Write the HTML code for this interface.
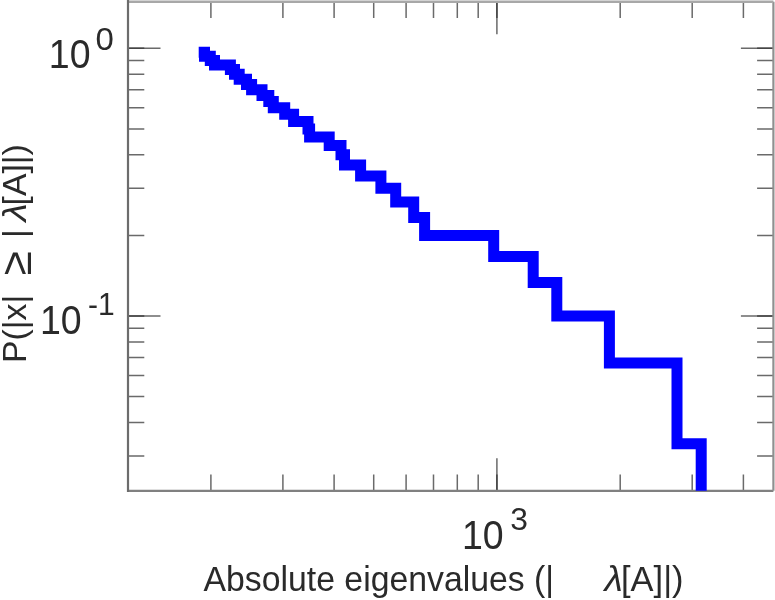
<!DOCTYPE html>
<html><head><meta charset="utf-8"><title>Absolute eigenvalues</title>
<style>
html,body{margin:0;padding:0;background:#fff;}
svg{display:block;}
text{font-family:"Liberation Sans",sans-serif;fill:#2a2a2a;}
.tk path{stroke:#6a6a6a;stroke-width:1.5;fill:none;}
.tk path.dk{stroke:#444;}
.big{font-size:37.5px;}
.sup{font-size:30px;}
.lab{font-size:33.8px;}
</style></head>
<body>
<svg width="775" height="600" viewBox="0 0 775 600">
<rect width="775" height="600" fill="#fff"/>
<defs><filter id="soft" x="-5%" y="-5%" width="110%" height="110%"><feGaussianBlur stdDeviation="0.45"/></filter><filter id="softb" x="-5%" y="-5%" width="110%" height="110%"><feGaussianBlur stdDeviation="0.55"/></filter></defs>
<g filter="url(#soft)">
<g class="tk">
<path d="M210.9 490.8V474.5M210.9 1.7V18.0"/>
<path d="M282.9 490.8V474.5M282.9 1.7V18.0"/>
<path d="M334.1 490.8V474.5M334.1 1.7V18.0"/>
<path d="M373.7 490.8V474.5M373.7 1.7V18.0"/>
<path d="M406.1 490.8V474.5M406.1 1.7V18.0"/>
<path d="M433.5 490.8V474.5M433.5 1.7V18.0"/>
<path d="M457.3 490.8V474.5M457.3 1.7V18.0"/>
<path d="M478.2 490.8V474.5M478.2 1.7V18.0"/>
<path d="M620.2 490.8V474.5M620.2 1.7V18.0"/>
<path d="M692.2 490.8V474.5M692.2 1.7V18.0"/>
<path d="M743.4 490.8V474.5M743.4 1.7V18.0"/>
<path d="M496.9 490.8V458.3M496.9 1.7V34.2"/>
<path class="dk" d="M496.9 490.8V474.5M496.9 1.7V18.0"/>
<path d="M128.0 60.5H144.3M773.4 60.5H757.1"/>
<path d="M128.0 74.2H144.3M773.4 74.2H757.1"/>
<path d="M128.0 89.8H144.3M773.4 89.8H757.1"/>
<path d="M128.0 107.7H144.3M773.4 107.7H757.1"/>
<path d="M128.0 128.9H144.3M773.4 128.9H757.1"/>
<path d="M128.0 154.8H144.3M773.4 154.8H757.1"/>
<path d="M128.0 188.3H144.3M773.4 188.3H757.1"/>
<path d="M128.0 235.4H144.3M773.4 235.4H757.1"/>
<path d="M128.0 328.2H144.3M773.4 328.2H757.1"/>
<path d="M128.0 341.9H144.3M773.4 341.9H757.1"/>
<path d="M128.0 357.5H144.3M773.4 357.5H757.1"/>
<path d="M128.0 375.4H144.3M773.4 375.4H757.1"/>
<path d="M128.0 396.6H144.3M773.4 396.6H757.1"/>
<path d="M128.0 422.5H144.3M773.4 422.5H757.1"/>
<path d="M128.0 456.0H144.3M773.4 456.0H757.1"/>
<path d="M128.0 48.3H160.5M773.4 48.3H740.9"/>
<path class="dk" d="M128.0 48.3H144.3M773.4 48.3H757.1"/>
<path d="M128.0 316.0H160.5M773.4 316.0H740.9"/>
<path class="dk" d="M128.0 316.0H144.3M773.4 316.0H757.1"/>
</g>
<path d="M128.0 490.8H773.4" stroke="#808080" stroke-width="2.2" fill="none"/>
<path d="M773.4 1.7V490.8" stroke="#909090" stroke-width="2.2" fill="none"/>
<path d="M128.0 1.7H773.4" stroke="#a8a8a8" stroke-width="2.4" fill="none"/>
<path d="M128.0 0V491.90000000000003" stroke="#6c6c6c" stroke-width="2.2" fill="none"/>
<text class="big" transform="translate(48.8 67.5) scale(1.000 1.060)" >10</text>
<text class="sup" transform="translate(95.6 49.5) scale(1.100 1.060)" >0</text>
<text class="big" transform="translate(40.0 333.8) scale(1.000 1.060)" >10</text>
<text class="sup" transform="translate(88.0 315.3) scale(1.000 1.060)" >-1</text>
<text class="big" transform="translate(462.0 548.6) scale(1.000 1.060)" >10</text>
<text class="sup" transform="translate(510.3 530.4) scale(1.060 1.060)" >3</text>
<text class="lab" transform="translate(203.5 590.5) scale(1.000 1.060)" >Absolute eigenvalues (|</text>
<text class="lab" transform="translate(604.5 590.5) scale(1.100 1.060)" font-style="italic">λ</text>
<text class="lab" transform="translate(621.0 590.5) scale(1.020 1.060)" >[A]|)</text>
<g transform="translate(26 363) rotate(-90)">
<text class="lab" transform="translate(0.0 0.0) scale(1.000 1.000)" >P(|x|</text>
<text class="lab" transform="translate(87.5 4.6) scale(1.300 1.300)" >≥</text>
<text class="lab" transform="translate(125.0 0.0) scale(1.000 1.000)" >|</text>
<text class="lab" transform="translate(141.5 0.0) scale(1.100 1.000)" font-style="italic">λ</text>
<text class="lab" transform="translate(157.5 0.0) scale(1.000 1.000)" >[A]|)</text>
</g>
</g>
<path d="M198.7 52.2 L204.5 52.2 L204.5 56.3 L210.3 56.3 L210.3 60.5 L214.5 60.5 L214.5 64.9 L230.4 64.9 L230.4 69.5 L234.5 69.5 L234.5 74.2 L239.2 74.2 L239.2 79.2 L246.5 79.2 L246.5 84.4 L251.6 84.4 L251.6 89.8 L262.0 89.8 L262.0 95.4 L268.8 95.4 L268.8 101.4 L273.3 101.4 L273.3 107.7 L284.7 107.7 L284.7 114.3 L293.6 114.3 L293.6 121.4 L308.0 121.4 L308.0 128.9 L309.6 128.9 L309.6 136.9 L329.2 136.9 L329.2 145.5 L341.0 145.5 L341.0 154.8 L344.5 154.8 L344.5 164.9 L360.6 164.9 L360.6 176.0 L380.9 176.0 L380.9 188.3 L395.7 188.3 L395.7 202.0 L413.7 202.0 L413.7 217.5 L424.6 217.5 L424.6 235.4 L493.7 235.4 L493.7 256.6 L533.2 256.6 L533.2 282.6 L556.8 282.6 L556.8 316.0 L609.4 316.0 L609.4 363.1 L677.0 363.1 L677.0 443.7 L701.2 443.7 L701.2 490.8" stroke="#0000ff" stroke-width="11" fill="none" filter="url(#softb)" stroke-linejoin="miter" stroke-linecap="butt"/>
</svg>
</body></html>
